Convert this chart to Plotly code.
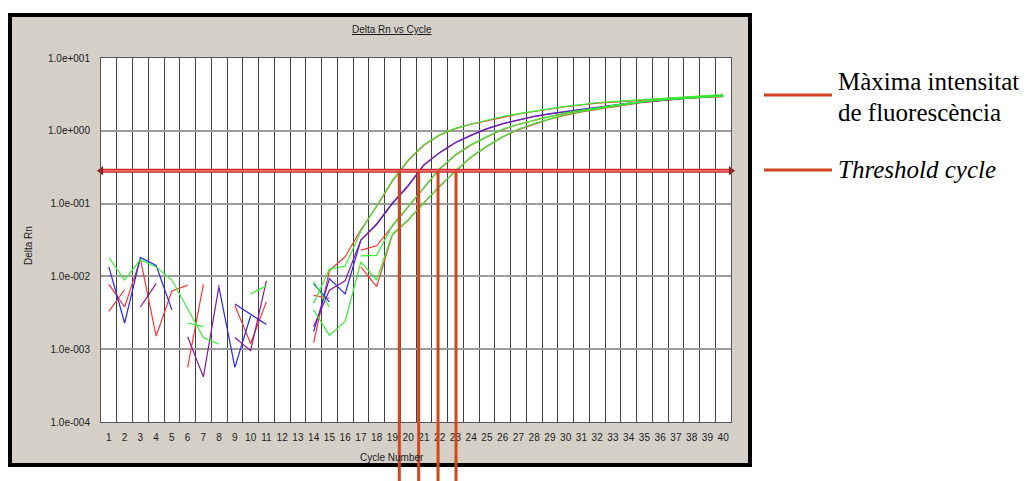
import math
import plotly.graph_objects as go

# ---------------- data ----------------
cycles = list(range(1, 41))
cycle_labels = [str(c) for c in cycles]

y_tick_vals = [1e-4, 1e-3, 1e-2, 1e-1, 1e0, 1e1]
y_tick_text = ["1.0e-004", "1.0e-003", "1.0e-002", "1.0e-001", "1.0e+000", "1.0e+001"]

N = None
red_a = [7.76e-3, 3.80e-3, 1.74e-2, 1.51e-3, 6.31e-3, 7.59e-3, N, N, 3.98e-3, 1.20e-3,
         4.47e-3, N, N, 1.23e-3, 1.20e-2, 1.86e-2, 4.37e-2, 9.12e-2, 0.204, 0.389,
         0.631, 0.871, 1.07, 1.23, 1.38, 1.55, 1.70, 1.84, 2.00, 2.14,
         2.26, 2.40, 2.48, 2.57, 2.66, 2.75, 2.85, 2.95, 3.02, 3.09]
green_a = [1.82e-2, 8.91e-3, 1.70e-2, 1.35e-2, 8.91e-3, 3.55e-3, 1.45e-3, 1.17e-3, N, N,
           N, N, N, 4.27e-3, 1.26e-2, 1.38e-2, 4.17e-2, 9.33e-2, 0.209, 0.398,
           0.646, 0.881, 1.08, 1.24, 1.40, 1.57, 1.72, 1.86, 2.02, 2.16,
           2.29, 2.43, 2.51, 2.60, 2.69, 2.79, 2.88, 2.99, 3.05, 3.13]
blue_b = [1.35e-2, 2.29e-3, 1.82e-2, 1.41e-2, 3.47e-3, N, N, 6.92e-3, 5.62e-4, 2.88e-3,
          N, N, N, 1.74e-3, 9.33e-3, 5.75e-3, 3.16e-2, 5.13e-2, 0.100, 0.174,
          0.339, 0.501, 0.692, 0.871, 1.07, 1.26, 1.41, 1.58, 1.72, 1.84,
          2.00, 2.14, 2.26, 2.40, 2.51, 2.63, 2.75, 2.85, 2.95, 3.02]
purple_b = [N, N, 3.80e-3, 7.94e-3, N, 1.48e-3, 4.17e-4, 7.59e-3, N, N,
            N, N, N, 2.04e-3, 6.46e-3, 8.71e-3, 3.16e-2, 5.25e-2, 0.102, 0.178,
            0.339, 0.501, 0.684, 0.861, 1.06, 1.24, 1.40, 1.57, 1.70, 1.82,
            1.97, 2.11, 2.24, 2.37, 2.48, 2.60, 2.72, 2.82, 2.92, 2.99]
purple_2 = [N, N, N, N, N, N, N, N, 1.45e-3, 9.55e-4,
            8.71e-3, N, N, N, N, N, N, N, N, N,
            N, N, N, N, N, N, N, N, N, N,
            N, N, N, N, N, N, N, N, N, N]
blue_2 = [N, N, N, N, N, N, N, N, 4.17e-3, 3.02e-3,
          2.19e-3, N, N, 7.94e-3, 4.47e-3, N, N, N, N, N,
          N, N, N, N, N, N, N, N, N, N,
          N, N, N, N, N, N, N, N, N, N]
green_c = [N, N, N, N, N, 2.29e-3, 2.04e-3, N, N, 5.75e-3,
           7.41e-3, N, N, 8.51e-3, 3.80e-3, N, 1.91e-2, 1.95e-2, 5.01e-2, 9.12e-2,
           0.162, 0.302, 0.468, 0.646, 0.832, 1.05, 1.23, 1.41, 1.58, 1.76,
           1.91, 2.09, 2.24, 2.40, 2.54, 2.66, 2.75, 2.85, 2.95, 3.02]
red_c = [3.31e-3, 6.61e-3, N, N, N, 5.62e-4, 7.76e-3, N, N, N,
         N, N, N, 5.50e-3, 5.01e-3, N, 2.29e-2, 2.63e-2, 4.90e-2, 9.02e-2,
         0.160, 0.299, 0.462, 0.638, 0.822, 1.04, 1.22, 1.40, 1.57, 1.74,
         1.91, 2.07, 2.21, 2.37, 2.51, 2.63, 2.75, 2.85, 2.95, 3.05]
green_d = [N, N, N, N, N, N, N, N, N, N,
           N, N, N, 3.47e-3, 1.55e-3, 2.40e-3, 1.58e-2, 8.91e-3, 3.80e-2, 6.03e-2,
           0.102, 0.174, 0.282, 0.437, 0.617, 0.832, 1.05, 1.26, 1.46, 1.66,
           1.84, 2.00, 2.16, 2.34, 2.51, 2.63, 2.75, 2.82, 2.92, 2.99]
red_d = [N, N, N, N, N, N, N, N, N, N,
         N, N, N, N, N, N, 1.35e-2, 7.24e-3, 3.72e-2, 5.89e-2,
         0.102, 0.172, 0.279, 0.432, 0.610, 0.822, 1.04, 1.24, 1.45, 1.64,
         1.82, 1.97, 2.14, 2.32, 2.48, 2.60, 2.72, 2.82, 2.88, 2.95]

threshold = 0.283
ct_values = [19.44, 20.67, 21.90, 23.04]

# ---------------- style ----------------
RED = "#FF3535"
GREEN = "#2EF52E"
BLUE = "#2626FF"
PURPLE = "#8A1A9A"
ORANGE = "#D2451E"

x_range = [0.5, 40.5]
y_range_log = [-4, 1]

series = [
    (red_a, RED), (red_c, RED), (red_d, RED),
    (blue_b, BLUE), (blue_2, BLUE),
    (purple_b, PURPLE), (purple_2, PURPLE),
    (green_a, GREEN), (green_c, GREEN), (green_d, GREEN),
]

fig = go.Figure()
for vals, col in series:
    fig.add_trace(go.Scatter(x=cycles, y=vals, mode="lines",
                             line=dict(color=col, width=1.2),
                             connectgaps=False, hoverinfo="skip", showlegend=False))

# threshold line with arrowheads (double-line look)
fig.add_trace(go.Scatter(x=x_range, y=[threshold, threshold], mode="lines",
                         line=dict(color="#C42A2A", width=4), hoverinfo="skip",
                         showlegend=False))
fig.add_trace(go.Scatter(x=x_range, y=[threshold, threshold], mode="lines+markers",
                         line=dict(color="#F07070", width=1.5),
                         marker=dict(symbol=["triangle-left", "triangle-right"], size=8,
                                     color="#A01818"),
                         cliponaxis=False, hoverinfo="skip", showlegend=False))

# pixel->paper helpers for layout decorations
L, R, T, B = 101, 731, 58, 422
W, H = R - L, B - T
def px(xp):
    return (xp - L) / W
def py(yp):
    return (B - yp) / H

thr_paper = (math.log10(threshold) - y_range_log[0]) / (y_range_log[1] - y_range_log[0])

shapes = [
    dict(type="rect", xref="paper", yref="paper", x0=px(10), x1=px(750), y0=py(465), y1=py(15),
         fillcolor="#D4D0C8", line=dict(color="black", width=4), layer="below"),
    dict(type="rect", xref="paper", yref="paper", x0=0, x1=1, y0=0, y1=1,
         fillcolor="white", line=dict(width=0), layer="below"),
]
for ct in ct_values:
    shapes.append(dict(type="line", xref="x", yref="paper", x0=ct, x1=ct,
                       y0=py(481), y1=thr_paper, line=dict(color=ORANGE, width=3)))
for yy in (95, 170):
    shapes.append(dict(type="line", xref="paper", yref="paper", x0=px(764), x1=px(832),
                       y0=py(yy), y1=py(yy), line=dict(color=ORANGE, width=3)))

small = dict(family="Liberation Sans, Arial, sans-serif", size=10, color="#1a1a1a")
serif = dict(family="Liberation Serif, Times New Roman, serif", size=25, color="black")

annotations = [
    dict(text="<u>Delta Rn vs Cycle</u>", xref="paper", yref="paper", x=px(392), y=py(29),
         showarrow=False, font=small, xanchor="center", yanchor="middle"),
    dict(text="Delta Rn", xref="paper", yref="paper", x=px(29), y=py(246), textangle=-90,
         showarrow=False, font=small, xanchor="center", yanchor="middle"),
    dict(text="Cycle Number", xref="paper", yref="paper", x=px(392), y=py(457),
         showarrow=False, font=small, xanchor="center", yanchor="middle"),
    dict(text="Màxima intensitat", xref="paper", yref="paper", x=px(836), y=py(81),
         showarrow=False, font=serif, xanchor="left", yanchor="middle"),
    dict(text="de fluorescència", xref="paper", yref="paper", x=px(836), y=py(112),
         showarrow=False, font=serif, xanchor="left", yanchor="middle"),
    dict(text="<i>Threshold cycle</i>", xref="paper", yref="paper", x=px(836), y=py(169),
         showarrow=False, font=serif, xanchor="left", yanchor="middle"),
]

fig.update_layout(
    width=1034, height=481,
    margin=dict(l=L, r=1034 - R, t=T, b=481 - B, pad=0),
    paper_bgcolor="white", plot_bgcolor="white",
    shapes=shapes, annotations=annotations,
    xaxis=dict(range=x_range, tickmode="array", tickvals=cycles, ticktext=cycle_labels,
               showgrid=False, zeroline=False, showline=True, mirror=True,
               linecolor="#555555", linewidth=1, ticks="", tickfont=small,
               ticklabelstandoff=6,
               minor=dict(tick0=0.5, dtick=1, showgrid=True, gridcolor="#404040",
                          gridwidth=1, ticks="")),
    yaxis=dict(type="log", range=y_range_log, tickmode="array", tickvals=y_tick_vals,
               ticktext=y_tick_text, showgrid=True, gridcolor="#9c9c9c", gridwidth=1.5,
               zeroline=False, showline=True, mirror=True, linecolor="#555555",
               linewidth=1, ticks="", tickfont=small, ticklabelstandoff=8),
)

fig.write_html("out.html", config={"displayModeBar": False},
               post_script="document.body.style.margin='0px';")
